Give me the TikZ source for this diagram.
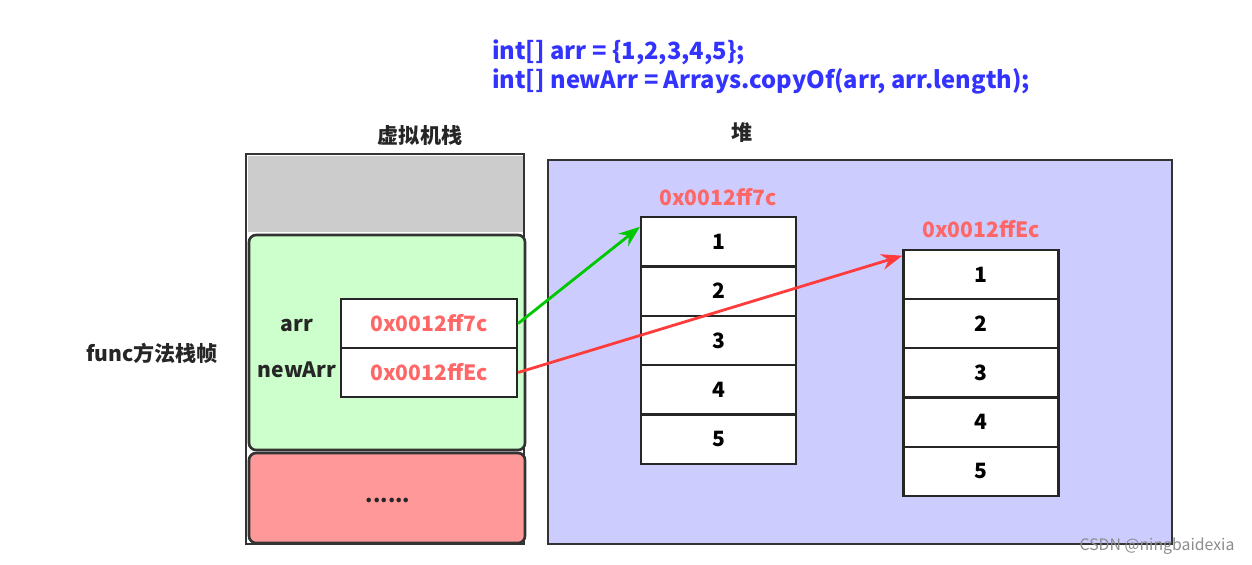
\documentclass[tikz,border=0pt]{standalone}
\usepackage{fontspec}
\setmainfont{Noto Sans CJK SC}
\usetikzlibrary{arrows.meta}
\definecolor{codeblue}{HTML}{3333FF}
\definecolor{addr}{HTML}{FF6666}
\tikzset{
  cell/.style={draw=black!85,line width=1.3pt,fill=white,minimum width=3.1cm,minimum height=0.99cm,font=\bfseries\large},
  refcell/.style={draw=black!85,line width=1.3pt,fill=white,minimum width=3.52cm,minimum height=0.99cm,font=\bfseries\large,text=addr},
  lbl/.style={font=\bfseries\large,text=black!85},
  addrlbl/.style={font=\bfseries\large,text=addr},
  ptr/.style={-{Stealth[length=12pt,width=9pt]},line width=1.6pt}
}
\begin{document}
\begin{tikzpicture}[x=0.02cm,y=-0.02cm]
\useasboundingbox (0,0) rectangle (1252,565);
\node[anchor=west,font=\bfseries\fontsize{13.5}{16}\selectfont,text=codeblue,align=left] (code) at (486,67) {int[] arr = \{1,2,3,4,5\};\\int[] newArr = Arrays.copyOf(arr, arr.length);};
\node[lbl] (t1) at (420,135) {虚拟机栈};
\node[lbl] (t2) at (742,133) {堆};
% stack
\draw[line width=1.5pt,draw=black!80,fill=white] (246,154) rectangle (524,544);
\fill[black!20] (247.5,155.5) rectangle (522.5,232);
\draw[line width=1.5pt,draw=black!80,fill={rgb,255:red,204;green,255;blue,204},rounded corners=4pt] (249,235) rectangle (525,450);
\draw[line width=1.5pt,draw=black!80,fill={rgb,255:red,255;green,153;blue,153},rounded corners=4pt] (249,453) rectangle (525,543);
\node[lbl] (dots) at (388,500) {......};
% heap
\draw[line width=1.5pt,draw=black!80,fill={rgb,255:red,204;green,204;blue,255}] (548,160) rectangle (1172,544);
% refs
\node[refcell] (r1) at (429,323.5) {0x0012ff7c};
\node[refcell] (r2) at (429,372.5) {0x0012ffEc};
\node[lbl] (la) at (297,325) {arr};
\node[lbl] (lb) at (297,370) {newArr};
\node[lbl] (lf) at (152,353) {func方法栈帧};
% arrays
\foreach \i in {1,...,5}{
  \node[cell] (a\i) at (718.5,{217+24.7+(\i-1)*49.4}) {\i};
  \node[cell] (b\i) at (981,{250+24.6+(\i-1)*49.2}) {\i};
}
\node[addrlbl] (al) at (718,197) {0x0012ff7c};
\node[addrlbl] (bl) at (981,229) {0x0012ffEc};
\draw[ptr,draw={rgb,255:red,0;green,200;blue,0}] (r1.east) -- ([yshift=-0.22cm]a1.north west);
\draw[ptr,draw={rgb,255:red,255;green,60;blue,60}] (r2.east) -- ([yshift=-0.14cm]b1.north west);
\node[font=\small,text=black!45] (wm) at (1157,546) {CSDN @ningbaidexia};
\end{tikzpicture}
\end{document}
